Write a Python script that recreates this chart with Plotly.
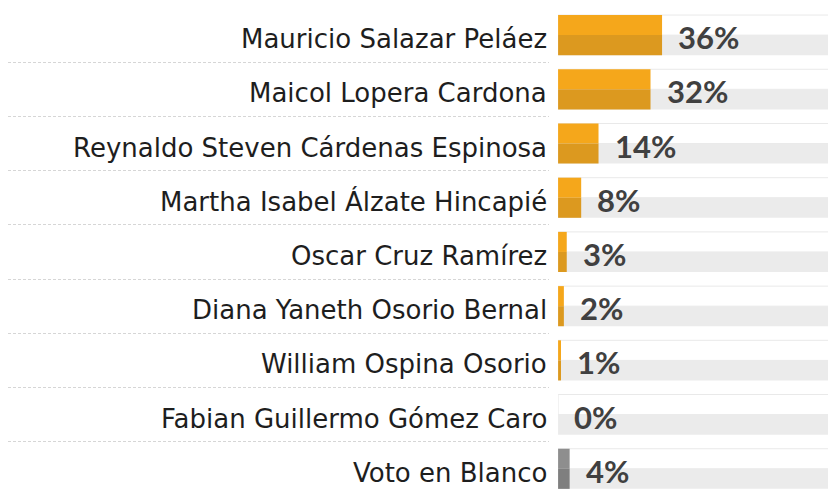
import plotly.graph_objects as pGraph

# candidates, top to bottom
candidates = [
    "Mauricio Salazar Peláez",
    "Maicol Lopera Cardona",
    "Reynaldo Steven Cárdenas Espinosa",
    "Martha Isabel Álzate Hincapié",
    "Oscar Cruz Ramírez",
    "Diana Yaneth Osorio Bernal",
    "William Ospina Osorio",
    "Fabian Guillermo Gómez Caro",
    "Voto en Blanco",
]
votes_pct = [36, 32, 14, 8, 3, 2, 1, 0, 4]
pct_labels = [f"{v}%" for v in votes_pct]
full_scale = [100] * len(candidates)

ORANGE_TOP, ORANGE_BOTTOM = "#F5A71B", "#DC991F"
GREY_TOP, GREY_BOTTOM = "#8E8E8E", "#7F7F7F"
top_colors = [GREY_TOP if c == "Voto en Blanco" else ORANGE_TOP for c in candidates]
bottom_colors = [GREY_BOTTOM if c == "Voto en Blanco" else ORANGE_BOTTOM for c in candidates]

HALF = 0.37

fig = pGraph.Figure()

# invisible trace so the left (names) subplot has its categories
fig.add_trace(pGraph.Scatter(
    x=[1] * len(candidates), y=candidates, mode='markers',
    marker=dict(size=1, color='rgba(0,0,0,0)'),
    xaxis='x', yaxis='y', showlegend=False, hoverinfo='skip'
))

# background track (light top, grey bottom)
fig.add_trace(pGraph.Bar(
    x=full_scale, y=candidates, orientation='h', width=HALF, offset=-HALF,
    marker=dict(color='#ffffff', line=dict(color='#e9e9e9', width=1)),
    xaxis='x2', yaxis='y2', showlegend=False, hoverinfo='skip'
))
fig.add_trace(pGraph.Bar(
    x=full_scale, y=candidates, orientation='h', width=HALF, offset=0,
    marker=dict(color='#ebebeb', line=dict(width=0)),
    xaxis='x2', yaxis='y2', showlegend=False, hoverinfo='skip'
))

# two-tone value bars
fig.add_trace(pGraph.Bar(
    x=votes_pct, y=candidates, orientation='h', width=HALF, offset=-HALF,
    marker=dict(color=top_colors, line=dict(width=0)),
    xaxis='x2', yaxis='y2', showlegend=False
))
fig.add_trace(pGraph.Bar(
    x=votes_pct, y=candidates, orientation='h', width=HALF, offset=0,
    marker=dict(color=bottom_colors, line=dict(width=0)),
    xaxis='x2', yaxis='y2', showlegend=False
))

# candidate names
for name in candidates:
    fig.add_annotation(
        x=1, y=name, xref='x', yref='y', text=name, showarrow=False,
        xanchor='right', yanchor='middle', yshift=-4,
        font=dict(family='DejaVu Sans', size=26, color='#1e1e1e')
    )

# percentage labels
for name, v, lbl in zip(candidates, votes_pct, pct_labels):
    fig.add_annotation(
        x=v, y=name, xref='x2', yref='y2', text=lbl, showarrow=False,
        xanchor='left', yanchor='middle', xshift=14, yshift=-2,
        font=dict(family='Lato', size=31, color='#404040', weight='bold')
    )

yrange = [8.52, -0.5]
fig.update_layout(
    width=836, height=489,
    margin=dict(l=0, r=0, t=0, b=0),
    paper_bgcolor='white', plot_bgcolor='white',
    barmode='overlay',
    xaxis=dict(domain=[0, 0.6475], range=[0, 1], visible=False),
    xaxis2=dict(domain=[0.658, 1], range=[0, 99], visible=False),
    yaxis=dict(type='category', categoryorder='array', categoryarray=candidates,
               range=yrange, anchor='x', tickson='boundaries', showgrid=True,
               gridcolor='#d6d6d6', griddash='3px,2px', gridwidth=1,
               showticklabels=False, ticks='', zeroline=False, showline=False),
    yaxis2=dict(type='category', categoryorder='array', categoryarray=candidates,
                range=yrange, anchor='x2', matches='y', showgrid=False,
                showticklabels=False, ticks='', zeroline=False, showline=False),
)

fig.write_html("out.html")
